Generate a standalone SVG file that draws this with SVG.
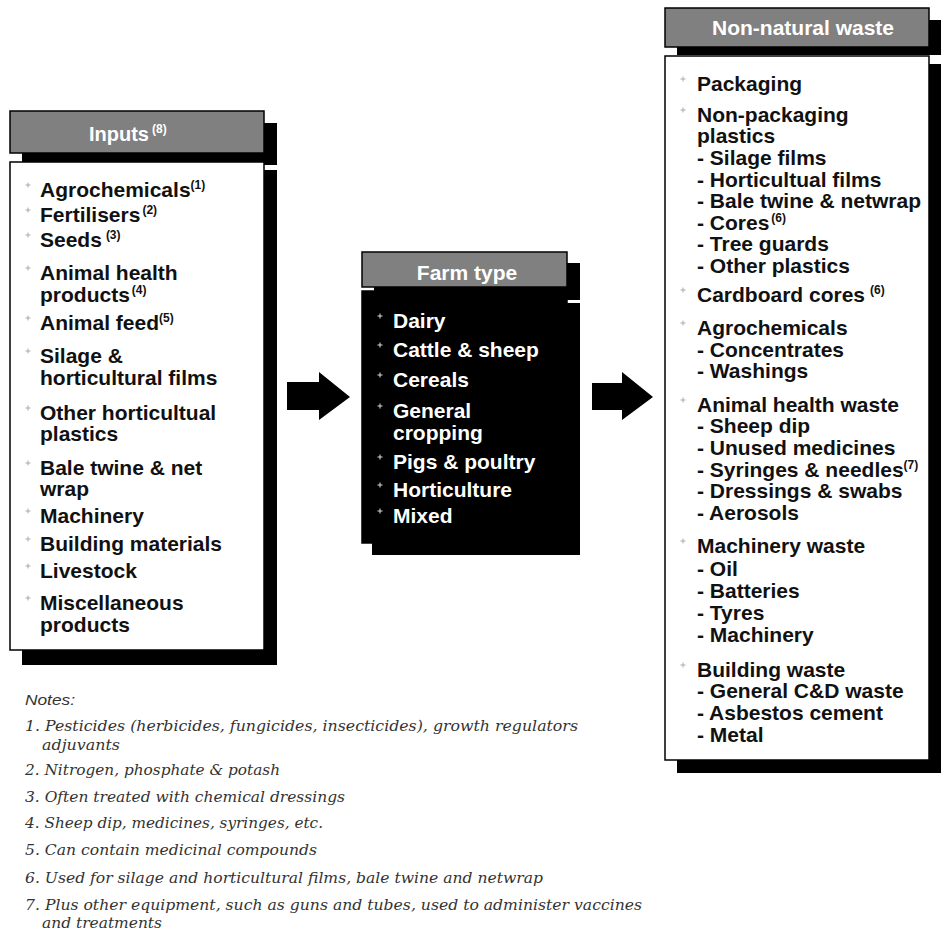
<svg xmlns="http://www.w3.org/2000/svg" xmlns:xlink="http://www.w3.org/1999/xlink" width="941" height="933" viewBox="0 0 941 933">
<style>
.hdr{fill:#808080;stroke:#000;stroke-width:1.5}
.shd{fill:#000}
.body{fill:#fff;stroke:#000;stroke-width:1.5}
.bodyk{fill:#000;stroke:#000;stroke-width:1.5}
.ht{font-family:"Liberation Sans",Arial,sans-serif;font-weight:bold;font-size:21px;fill:#fff}
.t{font-family:"Liberation Sans",Arial,sans-serif;font-weight:bold;font-size:21px;fill:#111}
.tw{font-family:"Liberation Sans",Arial,sans-serif;font-weight:bold;font-size:21px;fill:#fff}
.sup{font-size:12px}
.note{font-family:"DejaVu Serif","Liberation Serif",serif;font-style:italic;font-size:15px;fill:#333}
.nh{font-family:"Liberation Sans",Arial,sans-serif;font-style:italic;font-size:15px;fill:#333}
.arrow{fill:#000}
</style>
<defs>
<path id="b" d="M-2.5,0H2.5M0,-2.5V2.5" stroke="#aaa" stroke-width="1" fill="none"/>
<path id="bw" d="M-2.5,0H2.5M0,-2.5V2.5" stroke="#ddd" stroke-width="1" fill="none"/>
</defs>

<g id="inputs">
<rect class="shd" x="22" y="123" width="255" height="42"/>
<rect class="hdr" x="10" y="111" width="254" height="42"/>
<rect class="shd" x="22" y="170" width="255" height="495"/>
<rect class="body" x="10" y="162" width="254" height="488"/>
<text class="ht" x="89" y="141" style="font-size:20px">Inputs<tspan class="sup" dx="3" dy="-8">(8)</tspan></text>
<use xlink:href="#b" x="28" y="185"/><text class="t" x="40" y="197">Agrochemicals<tspan class="sup" dy="-8">(1)</tspan></text>
<use xlink:href="#b" x="28" y="210"/><text class="t" x="40" y="222">Fertilisers<tspan class="sup" dx="2" dy="-8">(2)</tspan></text>
<use xlink:href="#b" x="28" y="235"/><text class="t" x="40" y="247">Seeds<tspan class="sup" dx="4" dy="-8">(3)</tspan></text>
<use xlink:href="#b" x="28" y="268"/><text class="t" x="40" y="280">Animal health</text>
<text class="t" x="40" y="302">products<tspan class="sup" dx="2" dy="-8">(4)</tspan></text>
<use xlink:href="#b" x="28" y="318"/><text class="t" x="40" y="330">Animal feed<tspan class="sup" dy="-8">(5)</tspan></text>
<use xlink:href="#b" x="28" y="351"/><text class="t" x="40" y="363">Silage &amp;</text>
<text class="t" x="40" y="385">horticultural films</text>
<use xlink:href="#b" x="28" y="408"/><text class="t" x="40" y="420">Other horticultual</text>
<text class="t" x="40" y="441">plastics</text>
<use xlink:href="#b" x="28" y="463"/><text class="t" x="40" y="475">Bale twine &amp; net</text>
<text class="t" x="40" y="496">wrap</text>
<use xlink:href="#b" x="28" y="511"/><text class="t" x="40" y="523">Machinery</text>
<use xlink:href="#b" x="28" y="539"/><text class="t" x="40" y="551">Building materials</text>
<use xlink:href="#b" x="28" y="566"/><text class="t" x="40" y="578">Livestock</text>
<use xlink:href="#b" x="28" y="598"/><text class="t" x="40" y="610">Miscellaneous</text>
<text class="t" x="40" y="632">products</text>
</g>

<g id="farm-type">
<rect class="shd" x="374" y="263" width="206" height="37"/>
<rect class="hdr" x="362" y="252" width="205" height="35"/>
<rect class="shd" x="372" y="303" width="208" height="252"/>
<rect class="bodyk" x="362" y="291" width="205" height="252"/>
<text class="ht" x="467" y="280" text-anchor="middle">Farm type</text>
<use xlink:href="#bw" x="380" y="316"/><text class="tw" x="393" y="328">Dairy</text>
<use xlink:href="#bw" x="380" y="345"/><text class="tw" x="393" y="357">Cattle &amp; sheep</text>
<use xlink:href="#bw" x="380" y="375"/><text class="tw" x="393" y="387">Cereals</text>
<use xlink:href="#bw" x="380" y="406"/><text class="tw" x="393" y="418">General</text>
<text class="tw" x="393" y="440">cropping</text>
<use xlink:href="#bw" x="380" y="457"/><text class="tw" x="393" y="469">Pigs &amp; poultry</text>
<use xlink:href="#bw" x="380" y="485"/><text class="tw" x="393" y="497">Horticulture</text>
<use xlink:href="#bw" x="380" y="511"/><text class="tw" x="393" y="523">Mixed</text>
</g>

<g id="non-natural-waste">
<rect class="shd" x="677" y="20" width="264" height="35"/>
<rect class="hdr" x="665" y="8" width="264" height="39"/>
<rect class="shd" x="677" y="64" width="264" height="709"/>
<rect class="body" x="665" y="56" width="264" height="704"/>
<text class="ht" x="803" y="35" text-anchor="middle">Non-natural waste</text>
<use xlink:href="#b" x="683" y="79"/><text class="t" x="697" y="91">Packaging</text>
<use xlink:href="#b" x="683" y="110"/><text class="t" x="697" y="122">Non-packaging</text>
<text class="t" x="697" y="143">plastics</text>
<text class="t" x="697" y="165">- Silage films</text>
<text class="t" x="697" y="187">- Horticultual films</text>
<text class="t" x="697" y="208">- Bale twine &amp; netwrap</text>
<text class="t" x="697" y="230">- Cores<tspan class="sup" dx="2" dy="-8">(6)</tspan></text>
<text class="t" x="697" y="251">- Tree guards</text>
<text class="t" x="697" y="273">- Other plastics</text>
<use xlink:href="#b" x="683" y="290"/><text class="t" x="697" y="302">Cardboard cores<tspan class="sup" dx="5" dy="-8">(6)</tspan></text>
<use xlink:href="#b" x="683" y="323"/><text class="t" x="697" y="335">Agrochemicals</text>
<text class="t" x="697" y="357">- Concentrates</text>
<text class="t" x="697" y="378">- Washings</text>
<use xlink:href="#b" x="683" y="400"/><text class="t" x="697" y="412">Animal health waste</text>
<text class="t" x="697" y="433">- Sheep dip</text>
<text class="t" x="697" y="455">- Unused medicines</text>
<text class="t" x="697" y="477">- Syringes &amp; needles<tspan class="sup" dy="-8">(7)</tspan></text>
<text class="t" x="697" y="498">- Dressings &amp; swabs</text>
<text class="t" x="697" y="520">- Aerosols</text>
<use xlink:href="#b" x="683" y="541"/><text class="t" x="697" y="553">Machinery waste</text>
<text class="t" x="697" y="576">- Oil</text>
<text class="t" x="697" y="598">- Batteries</text>
<text class="t" x="697" y="620">- Tyres</text>
<text class="t" x="697" y="642">- Machinery</text>
<use xlink:href="#b" x="683" y="665"/><text class="t" x="697" y="677">Building waste</text>
<text class="t" x="697" y="698">- General C&amp;D waste</text>
<text class="t" x="697" y="720">- Asbestos cement</text>
<text class="t" x="697" y="742">- Metal</text>
</g>

<g id="connectors">
<polygon class="arrow" points="287,382 319,382 319,372 350,397 319,420 319,410 287,410"/>
<polygon class="arrow" points="592,383 622,383 622,372 653,397 622,420 622,410 592,410"/>
</g>

<g id="notes">
<text class="nh" x="25" y="705" textLength="50" lengthAdjust="spacingAndGlyphs">Notes:</text>
<text class="note" x="25" y="731" textLength="553" lengthAdjust="spacingAndGlyphs">1. Pesticides (herbicides, fungicides, insecticides), growth regulators</text>
<text class="note" x="42" y="750" textLength="78" lengthAdjust="spacingAndGlyphs">adjuvants</text>
<text class="note" x="25" y="775" textLength="255" lengthAdjust="spacingAndGlyphs">2. Nitrogen, phosphate &amp; potash</text>
<text class="note" x="25" y="802" textLength="320" lengthAdjust="spacingAndGlyphs">3. Often treated with chemical dressings</text>
<text class="note" x="25" y="828" textLength="298" lengthAdjust="spacingAndGlyphs">4. Sheep dip, medicines, syringes, etc.</text>
<text class="note" x="25" y="855" textLength="292" lengthAdjust="spacingAndGlyphs">5. Can contain medicinal compounds</text>
<text class="note" x="25" y="883" textLength="518" lengthAdjust="spacingAndGlyphs">6. Used for silage and horticultural films, bale twine and netwrap</text>
<text class="note" x="25" y="910" textLength="617" lengthAdjust="spacingAndGlyphs">7. Plus other equipment, such as guns and tubes, used to administer vaccines</text>
<text class="note" x="42" y="928" textLength="120" lengthAdjust="spacingAndGlyphs">and treatments</text>
</g>
</svg>
